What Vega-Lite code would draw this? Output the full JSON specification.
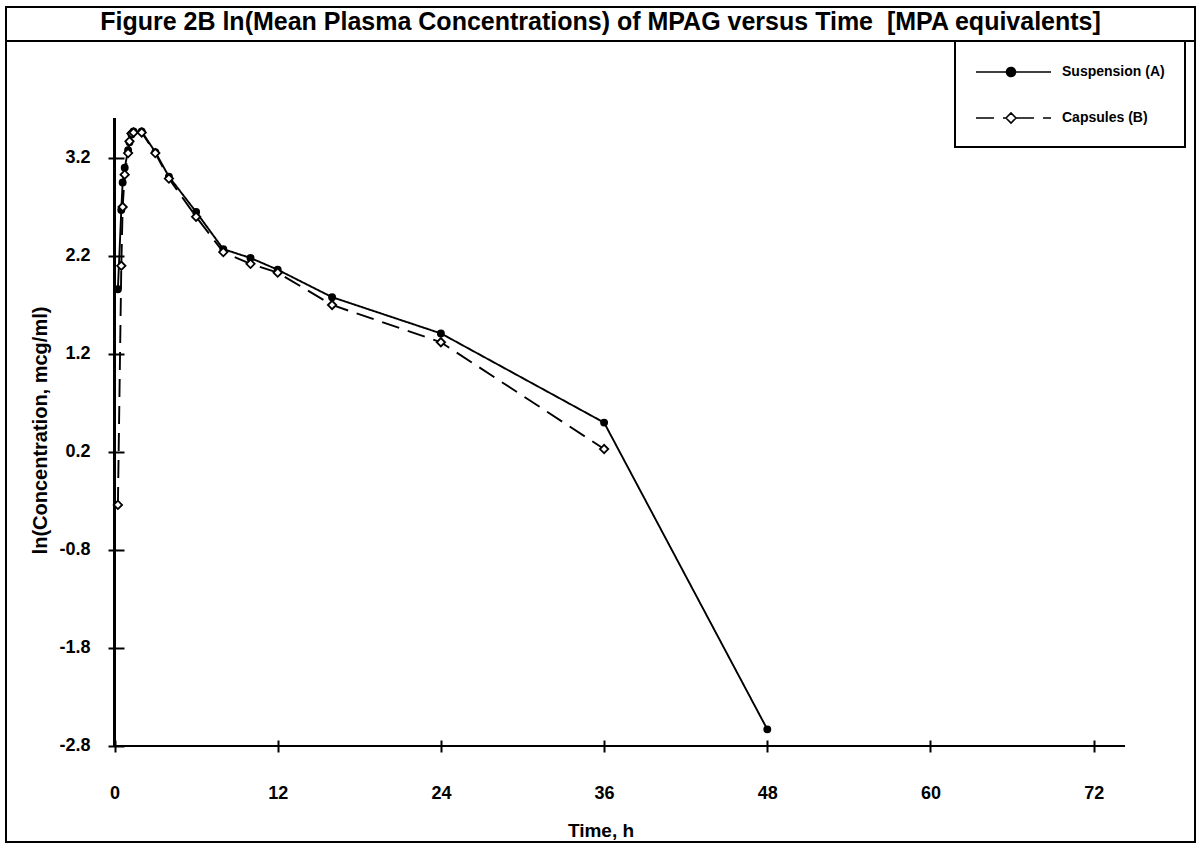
{
  "$schema": "https://vega.github.io/schema/vega-lite/v6.json",
  "autosize": {"type": "none"},
  "padding": {"left": 6, "top": 7, "right": 5, "bottom": 4},
  "width": 1189,
  "height": 835,
  "background": "white",
  "title": {
    "text": "Figure 2B ln(Mean Plasma Concentrations) of MPAG versus Time \u00a0[MPA equivalents]",
    "font": "Liberation Sans",
    "fontSize": 25,
    "fontWeight": "bold",
    "color": "black",
    "anchor": "middle",
    "baseline": "alphabetic",
    "offset": -25,
    "dy": 23
  },
  "data": {
    "values": [
      {"Series": "Suspension (A)", "Time": 0.25, "LnConc": 1.86},
      {"Series": "Suspension (A)", "Time": 0.5, "LnConc": 2.67},
      {"Series": "Suspension (A)", "Time": 0.6, "LnConc": 2.95},
      {"Series": "Suspension (A)", "Time": 0.75, "LnConc": 3.1},
      {"Series": "Suspension (A)", "Time": 1, "LnConc": 3.28},
      {"Series": "Suspension (A)", "Time": 1.1, "LnConc": 3.36},
      {"Series": "Suspension (A)", "Time": 1.25, "LnConc": 3.44},
      {"Series": "Suspension (A)", "Time": 1.4, "LnConc": 3.47},
      {"Series": "Suspension (A)", "Time": 2, "LnConc": 3.47},
      {"Series": "Suspension (A)", "Time": 3, "LnConc": 3.26},
      {"Series": "Suspension (A)", "Time": 4, "LnConc": 3.01},
      {"Series": "Suspension (A)", "Time": 6, "LnConc": 2.65},
      {"Series": "Suspension (A)", "Time": 8, "LnConc": 2.27},
      {"Series": "Suspension (A)", "Time": 10, "LnConc": 2.18},
      {"Series": "Suspension (A)", "Time": 12, "LnConc": 2.06},
      {"Series": "Suspension (A)", "Time": 16, "LnConc": 1.78},
      {"Series": "Suspension (A)", "Time": 24, "LnConc": 1.41},
      {"Series": "Suspension (A)", "Time": 36, "LnConc": 0.5},
      {"Series": "Suspension (A)", "Time": 48, "LnConc": -2.63},
      {"Series": "Capsules (B)", "Time": 0.25, "LnConc": -0.34},
      {"Series": "Capsules (B)", "Time": 0.5, "LnConc": 2.1},
      {"Series": "Capsules (B)", "Time": 0.6, "LnConc": 2.7},
      {"Series": "Capsules (B)", "Time": 0.75, "LnConc": 3.03},
      {"Series": "Capsules (B)", "Time": 1, "LnConc": 3.25},
      {"Series": "Capsules (B)", "Time": 1.1, "LnConc": 3.37},
      {"Series": "Capsules (B)", "Time": 1.25, "LnConc": 3.45},
      {"Series": "Capsules (B)", "Time": 1.4, "LnConc": 3.46},
      {"Series": "Capsules (B)", "Time": 2, "LnConc": 3.46},
      {"Series": "Capsules (B)", "Time": 3, "LnConc": 3.25},
      {"Series": "Capsules (B)", "Time": 4, "LnConc": 2.99},
      {"Series": "Capsules (B)", "Time": 6, "LnConc": 2.6},
      {"Series": "Capsules (B)", "Time": 8, "LnConc": 2.24},
      {"Series": "Capsules (B)", "Time": 10, "LnConc": 2.12},
      {"Series": "Capsules (B)", "Time": 12, "LnConc": 2.03},
      {"Series": "Capsules (B)", "Time": 16, "LnConc": 1.7},
      {"Series": "Capsules (B)", "Time": 24, "LnConc": 1.32},
      {"Series": "Capsules (B)", "Time": 36, "LnConc": 0.23}
    ]
  },
  "layer": [
    {
      "mark": {"type": "rule", "color": "black", "strokeWidth": 2},
      "encoding": {"y": {"datum": 4.394, "type": "quantitative", "scale": {"domain": [-3.7796, 4.7408], "nice": false, "zero": false}}}
    },
    {
      "mark": {"type": "rule", "color": "black", "strokeWidth": 2},
      "encoding": {
        "x": {"datum": 0, "type": "quantitative"},
        "x2": {"datum": 74.3},
        "y": {"datum": -2.8, "type": "quantitative"}
      }
    },
    {
      "mark": {"type": "rule", "color": "black", "strokeWidth": 2},
      "encoding": {
        "x": {"datum": 0, "type": "quantitative"},
        "y": {"datum": -2.8, "type": "quantitative"},
        "y2": {"datum": 3.608}
      }
    },
    {
      "mark": {"type": "line", "color": "black", "strokeWidth": 1.9},
      "encoding": {
        "x": {
          "field": "Time",
          "type": "quantitative",
          "title": "Time, h",
          "scale": {"domain": [-7.978, 79.449], "nice": false, "zero": false},
          "axis": {"values": [0, 12, 24, 36, 48, 60, 72], "format": "d"}
        },
        "y": {
          "field": "LnConc",
          "type": "quantitative",
          "title": "ln(Concentration, mcg/ml)",
          "scale": {"domain": [-3.7796, 4.7408], "nice": false, "zero": false},
          "axis": {"values": [-2.8, -1.8, -0.8, 0.2, 1.2, 2.2, 3.2], "labelExpr": "replace(format(datum.value, '.1f'), '\u2212', '-')"}
        },
        "strokeDash": {
          "field": "Series",
          "type": "nominal",
          "scale": {"domain": ["Suspension (A)", "Capsules (B)"], "range": [[1, 0], [18, 9]]},
          "legend": {
            "title": null,
            "orient": "none",
            "legendX": 949,
            "legendY": 34,
            "padding": 20,
            "strokeColor": "black",
            "fillColor": "white",
            "cornerRadius": 0,
            "symbolSize": 400,
            "symbolType": "M-1,0H6.5",
            "symbolStrokeColor": "black",
            "symbolStrokeWidth": 1.6,
            "rowPadding": 27,
            "labelOffset": 65,
            "labelFont": "Liberation Sans",
            "labelFontSize": 14,
            "labelFontWeight": "bold",
            "labelColor": "black",
            "encode": {
              "legend": {"update": {"strokeWidth": {"value": 2}}},
              "symbols": {
                "update": {
                  "shape": {"signal": "datum.value === 'Suspension (A)' ? 'M-1,0H2.05M2.95,0H6.5M2.95,0A0.45,0.45 0 0 0 2.05,0M2.05,0A0.45,0.45 0 0 0 2.95,0' : 'M-1,0H2.0M3.0,0H6.5M2.0,0L2.5,-0.5L3.0,0M2.0,0L2.5,0.5L3.0,0'"},
                  "fill": {"signal": "datum.value === 'Suspension (A)' ? 'black' : 'white'"},
                  "stroke": {"value": "black"},
                  "strokeWidth": {"value": 1.6},
                  "opacity": {"value": 1}
                }
              }
            }
          }
        }
      }
    },
    {
      "transform": [{"filter": "datum.Series === 'Suspension (A)'"}],
      "mark": {"type": "point", "shape": "circle", "filled": true, "fill": "black", "stroke": "black", "strokeWidth": 1.6, "size": 40, "opacity": 1},
      "encoding": {
        "x": {"field": "Time", "type": "quantitative"},
        "y": {"field": "LnConc", "type": "quantitative"}
      }
    },
    {
      "transform": [{"filter": "datum.Series === 'Capsules (B)'"}],
      "mark": {"type": "point", "shape": "diamond", "filled": true, "fill": "white", "stroke": "black", "strokeWidth": 1.8, "size": 70, "opacity": 1},
      "encoding": {
        "x": {"field": "Time", "type": "quantitative"},
        "y": {"field": "LnConc", "type": "quantitative"}
      }
    }
  ],
  "config": {
    "view": {"stroke": "black", "strokeWidth": 2},
    "axisX": {
      "offset": -102,
      "domain": false,
      "grid": false,
      "tickSize": 12,
      "tickWidth": 2,
      "tickColor": "black",
      "labelFont": "Liberation Sans",
      "labelFontSize": 18,
      "labelFontWeight": "bold",
      "labelColor": "black",
      "labelPadding": 32,
      "labelFlush": false,
      "labelOverlap": false,
      "titleFont": "Liberation Sans",
      "titleFontSize": 19,
      "titleFontWeight": "bold",
      "titleColor": "black",
      "titleBaseline": "middle",
      "titleY": 90
    },
    "axisY": {
      "offset": -118,
      "domain": false,
      "grid": false,
      "tickSize": 16,
      "tickWidth": 2,
      "tickColor": "black",
      "labelFont": "Liberation Sans",
      "labelFontSize": 18,
      "labelFontWeight": "bold",
      "labelColor": "black",
      "labelPadding": 18,
      "labelFlush": false,
      "labelOverlap": false,
      "titleFont": "Liberation Sans",
      "titleFontSize": 20,
      "titleFontWeight": "bold",
      "titleColor": "black",
      "titleAngle": 270,
      "titleAlign": "center",
      "titleBaseline": "middle",
      "titleX": -84,
      "titleY": 423
    }
  }
}
